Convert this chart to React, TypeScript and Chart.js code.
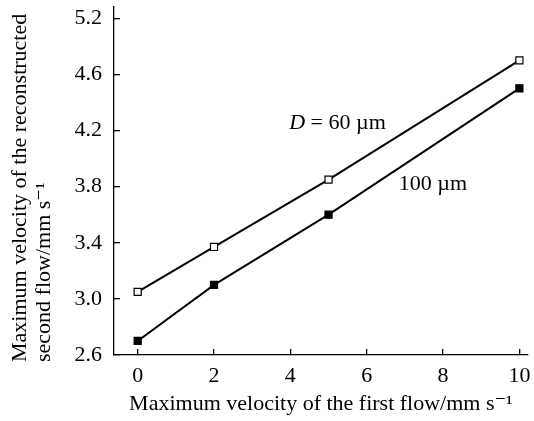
import React, { useEffect, useRef } from "react";
import { Chart, registerables } from "chart.js";

Chart.register(...registerables);

const xValues = [0, 2, 5, 10];
const seriesD60 = [3.05, 3.37, 3.85, 4.7];
const seriesD100 = [2.7, 3.1, 3.6, 4.5];
const xTickValues = [0, 2, 4, 6, 8, 10];
const yTickValues = [2.6, 3.0, 3.4, 3.8, 4.2, 4.6, 5.0];
const yTickLabels = ["2.6", "3.0", "3.4", "3.8", "4.2", "4.6", "5.2"];
const xTitle = "Maximum velocity of the first flow/mm s\u207B\u00B9";
const yTitle = ["Maximum velocity of the reconstructed", "second flow/mm s\u207B\u00B9"];
const labelD60 = { x: 3.97, y: 4.25, italic: "D", rest: " = 60 \u00B5m" };
const labelD100 = { x: 6.84, y: 3.817, text: "100 \u00B5m" };

const FONT = "'Liberation Serif', 'DejaVu Serif', serif";
const FS = 22;

const annotationPlugin = {
  id: "curveLabels",
  afterDatasetsDraw(chart: any) {
    const { ctx, scales } = chart;
    const xs = scales.x;
    const ys = scales.y;
    ctx.save();
    ctx.fillStyle = "#000";
    ctx.textBaseline = "middle";
    ctx.textAlign = "left";
    let px = xs.getPixelForValue(labelD60.x);
    let py = ys.getPixelForValue(labelD60.y);
    ctx.font = `italic ${FS}px ${FONT}`;
    ctx.fillText(labelD60.italic, px, py);
    const w = ctx.measureText(labelD60.italic).width;
    ctx.font = `${FS}px ${FONT}`;
    ctx.fillText(labelD60.rest, px + w, py);
    px = xs.getPixelForValue(labelD100.x);
    py = ys.getPixelForValue(labelD100.y);
    ctx.fillText(labelD100.text, px, py);
    ctx.restore();
  },
};

const yTitlePlugin = {
  id: "yTitle",
  afterDraw(chart: any) {
    const { ctx, chartArea } = chart;
    ctx.save();
    ctx.fillStyle = "#000";
    ctx.font = `${FS}px ${FONT}`;
    ctx.textAlign = "left";
    ctx.textBaseline = "middle";
    ctx.translate(0, chartArea.bottom + 7);
    ctx.rotate(-Math.PI / 2);
    yTitle.forEach((line, i) => {
      ctx.fillText(line, 0, 20 + i * 24);
    });
    ctx.restore();
  },
};

const zeroPad = (s: any) => {
  s.paddingLeft = 0;
  s.paddingRight = 0;
  s.paddingTop = 0;
  s.paddingBottom = 0;
};

export default function App() {
  const ref = useRef<HTMLCanvasElement>(null);
  useEffect(() => {
    document.body.style.margin = "0";
    const canvas = ref.current!;
    const chart = new Chart(canvas, {
      type: "line",
      data: {
        datasets: [
          {
            label: "D = 60 µm",
            data: xValues.map((x, i) => ({ x, y: seriesD60[i] })),
            borderColor: "#000",
            borderWidth: 2,
            pointStyle: "rect",
            pointRadius: 5,
            pointBorderWidth: 1.2,
            pointBackgroundColor: "#fff",
            pointBorderColor: "#000",
            tension: 0,
          },
          {
            label: "100 µm",
            data: xValues.map((x, i) => ({ x, y: seriesD100[i] })),
            borderColor: "#000",
            borderWidth: 2,
            pointStyle: "rect",
            pointRadius: 5,
            pointBorderWidth: 1.2,
            pointBackgroundColor: "#000",
            pointBorderColor: "#000",
            tension: 0,
          },
        ],
      },
      options: {
        responsive: false,
        animation: false,
        events: [],
        layout: { padding: { top: 7, right: 0, left: 0, bottom: 0 } },
        plugins: { legend: { display: false }, tooltip: { enabled: false }, title: { display: false } },
        scales: {
          x: {
            type: "linear",
            min: -0.62,
            max: 10.22,
            afterBuildTicks: (s: any) => {
              s.ticks = xTickValues.map((v) => ({ value: v }));
            },
            afterFit: (s: any) => {
              s.height = 66;
              zeroPad(s);
            },
            border: { display: true, color: "#000", width: 1.3 },
            grid: { drawOnChartArea: false, drawTicks: true, tickLength: -6, color: "#000", lineWidth: 1.3 },
            ticks: {
              color: "#000",
              font: { family: FONT, size: FS },
              padding: 14,
              maxRotation: 0,
              autoSkip: false,
              callback: (v: any) => String(v),
            },
            title: {
              display: true,
              text: xTitle,
              color: "#000",
              font: { family: FONT, size: FS },
              padding: { top: 0, bottom: 4 },
            },
          },
          y: {
            type: "linear",
            min: 2.6,
            max: 5.08,
            afterBuildTicks: (s: any) => {
              s.ticks = yTickValues.map((v) => ({ value: v }));
            },
            afterFit: (s: any) => {
              s.width = 114;
              zeroPad(s);
            },
            border: { display: true, color: "#000", width: 1.3 },
            grid: { drawOnChartArea: false, drawTicks: true, tickLength: -6, color: "#000", lineWidth: 1.3 },
            ticks: {
              color: "#000",
              font: { family: FONT, size: FS },
              padding: 18,
              autoSkip: false,
              callback: (_v: any, i: number) => yTickLabels[i],
            },
            title: { display: false },
          },
        },
      },
      plugins: [annotationPlugin, yTitlePlugin],
    } as any);
    return () => chart.destroy();
  }, []);
  return (
    <div style={{ width: 534, height: 421 }}>
      <canvas ref={ref} width={534} height={421} />
    </div>
  );
}
